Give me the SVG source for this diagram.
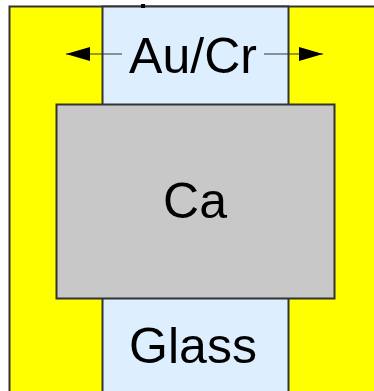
<svg xmlns="http://www.w3.org/2000/svg" width="374" height="391" viewBox="0 0 374 391">
<style>
.lbl{font-family:"Liberation Sans",Arial,sans-serif;font-size:50px;fill:#000;text-anchor:middle}
.edge{stroke:#333;stroke-width:2}
</style>
<defs>
<marker id="ah" viewBox="0 0 10 10" refX="10" refY="5" markerWidth="24" markerHeight="14" markerUnits="userSpaceOnUse" orient="auto" preserveAspectRatio="none">
<path d="M0,0 L10,5 L0,10 z" fill="#000"/>
</marker>
</defs>
<rect width="374" height="391" fill="#fff"/>
<g id="electrode">
<rect x="9.5" y="6.5" width="370" height="390" fill="#ffff00" class="edge"/>
</g>
<g id="glass">
<rect x="102.5" y="6.5" width="186" height="390" fill="#ddeeff" class="edge"/>
<text class="lbl" x="193" y="363">Glass</text>
</g>
<g id="aucr">
<text class="lbl" x="193" y="73">Au/Cr</text>
</g>
<g id="ca">
<rect x="56.5" y="104.5" width="278" height="194" fill="#c8c8c8" class="edge"/>
<text class="lbl" x="195" y="218">Ca</text>
</g>
<rect x="141" y="4" width="4" height="4" fill="#000"/>
<g id="connectors" stroke="#333" stroke-width="1" fill="none">
<line x1="122" y1="54" x2="66" y2="54" marker-end="url(#ah)"/>
<line x1="264" y1="54" x2="323" y2="54" marker-end="url(#ah)"/>
</g>
</svg>
